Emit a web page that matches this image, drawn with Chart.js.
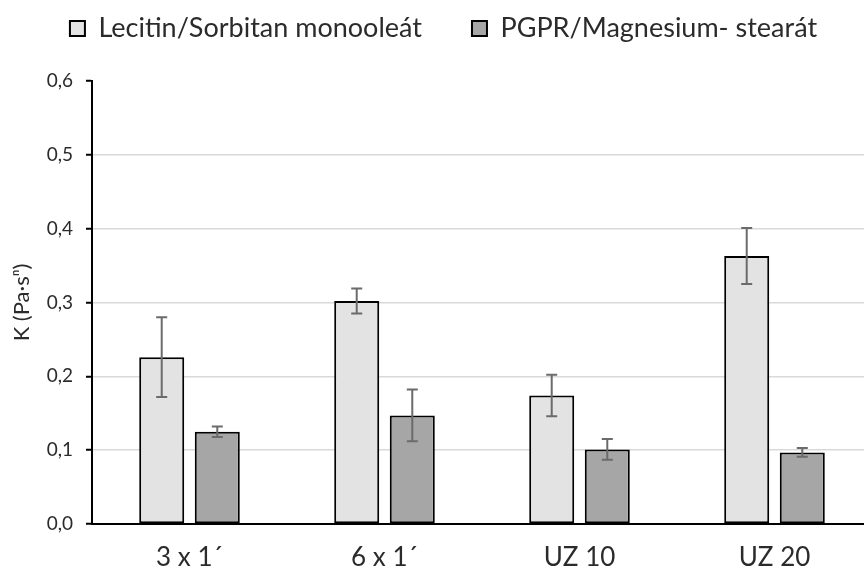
<!DOCTYPE html>
<html>
<head>
<meta charset="utf-8">
<script src="https://cdn.jsdelivr.net/npm/chart.js@4"></script>
<style>
  html, body { margin: 0; padding: 0; background: #fff; }
  #wrap { width: 864px; height: 568px; overflow: hidden; }
</style>
</head>
<body>
<div id="wrap"><canvas id="chart" width="880" height="568"></canvas></div>
<script>
// K consistency index per treatment, mean and standard deviation
const categories = ['3 x 1´', '6 x 1´', 'UZ 10', 'UZ 20'];
const lecitin = [0.226, 0.302, 0.174, 0.363];
const lecitinErr = [0.054, 0.017, 0.028, 0.038];
const pgpr = [0.125, 0.147, 0.101, 0.097];
const pgprErr = [0.007, 0.035, 0.014, 0.006];
const yTicks = [0, 0.1, 0.2, 0.3, 0.4, 0.5, 0.6];

const TEXT = '#2b2b2b';
const PAD_LEFT = 7;
const LEGEND_GAP = 50;

Chart.defaults.font.family = 'Lato, "Open Sans", sans-serif';

// whiskers drawn on top of each bar from its dataset's errors array
const errorBars = {
  id: 'errorBars',
  afterDatasetsDraw(chart) {
    const { ctx } = chart;
    const y = chart.scales.y;
    ctx.save();
    ctx.strokeStyle = '#6b6b6b';
    ctx.lineWidth = 2;
    chart.data.datasets.forEach((ds, i) => {
      chart.getDatasetMeta(i).data.forEach((bar, j) => {
        const hi = y.getPixelForValue(ds.data[j] + ds.errors[j]);
        const lo = y.getPixelForValue(ds.data[j] - ds.errors[j]);
        const x = bar.x, cap = 5.5;
        ctx.beginPath();
        ctx.moveTo(x, hi); ctx.lineTo(x, lo);
        ctx.moveTo(x - cap, hi); ctx.lineTo(x + cap, hi);
        ctx.moveTo(x - cap, lo); ctx.lineTo(x + cap, lo);
        ctx.stroke();
      });
    });
    ctx.restore();
  }
};

// the wide label padding also pushes the legend row down, so lift it back up
const legendRow = {
  id: 'legendRow',
  afterLayout(chart) {
    const lg = chart.legend;
    const h = lg.height;
    lg.top = 15 - LEGEND_GAP;
    lg.bottom = lg.top + h;
  }
};

new Chart(document.getElementById('chart'), {
  type: 'bar',
  data: {
    labels: categories,
    datasets: [
      { label: 'Lecitin/Sorbitan monooleát', data: lecitin, errors: lecitinErr,
        backgroundColor: '#e3e3e3', borderColor: '#000', borderWidth: 2, borderSkipped: false },
      { label: 'PGPR/Magnesium- stearát', data: pgpr, errors: pgprErr,
        backgroundColor: '#a6a6a6', borderColor: '#000', borderWidth: 2, borderSkipped: false },
    ],
  },
  plugins: [errorBars, legendRow],
  options: {
    responsive: false, animation: false, devicePixelRatio: 1,
    layout: { padding: { left: PAD_LEFT, right: 0, top: 81 - (27 + LEGEND_GAP + 10), bottom: 0 } },
    datasets: { bar: { categoryPercentage: 0.57, barPercentage: 0.81 } },
    plugins: {
      legend: {
        position: 'top',
        labels: { boxWidth: 15, boxHeight: 15, padding: LEGEND_GAP, color: TEXT, font: { size: 27 } },
      },
      tooltip: { enabled: false },
    },
    scales: {
      x: {
        grid: { display: false, drawTicks: false },
        border: { color: '#000', width: 2 },
        ticks: { padding: 18, color: TEXT, font: { size: 26 } },
        afterFit(s) { s.height = 44; s.paddingLeft = 0; s.paddingRight = 8; },
      },
      y: {
        min: 0, max: 0.6,
        afterBuildTicks(s) { s.ticks = yTicks.map(v => ({ value: v })); },
        ticks: {
          padding: 13, color: TEXT, font: { size: 19 },
          callback: v => v.toFixed(1).replace('.', ','),
        },
        grid: {
          color: c => (c.tick && c.tick.value >= 0.59) ? 'rgba(0,0,0,0)' : '#d9d9d9',
          lineWidth: 1.5, tickColor: '#000', tickLength: 6, tickWidth: 2,
        },
        border: { color: '#000', width: 2 },
        title: { display: true, text: 'K (Pa·sⁿ)', color: TEXT, font: { size: 22 }, padding: { top: 2 } },
        afterFit(s) { s.width = 92 - PAD_LEFT; },
      },
    },
  },
});
</script>
</body>
</html>
